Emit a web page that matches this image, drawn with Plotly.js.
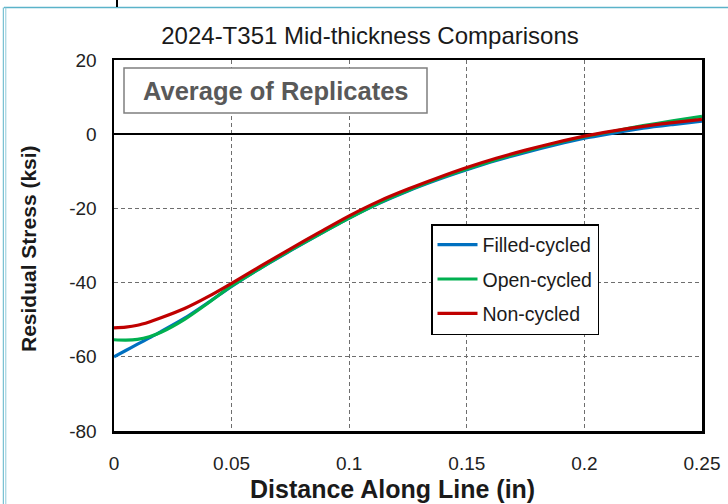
<!DOCTYPE html>
<html>
<head>
<meta charset="utf-8">
<script src="https://cdn.plot.ly/plotly-3.0.1.min.js"></script>
<style>
html,body{margin:0;padding:0;background:#fff;}
#chart{width:728px;height:504px;}
</style>
</head>
<body>
<div id="chart"></div>
<script>
// ---- data ----
const distance = [0, 0.005, 0.01, 0.015, 0.02, 0.03, 0.04, 0.05, 0.0625, 0.075, 0.0875, 0.1,
  0.1125, 0.125, 0.1375, 0.15, 0.1625, 0.175, 0.1875, 0.2, 0.2125, 0.225, 0.2375, 0.25];
const filledCycled = [-60.0, -58.3, -56.6, -54.9, -53.2, -49.6, -45.4, -41.0, -36.0, -31.4, -26.9, -22.6,
  -18.7, -15.3, -12.3, -9.6, -7.1, -4.9, -2.9, -1.1, 0.3, 1.6, 2.6, 3.5];
const openCycled = [-55.4, -55.5, -55.3, -54.6, -53.4, -49.9, -45.5, -40.9, -36.0, -31.3, -26.9, -22.6,
  -18.6, -15.2, -12.1, -9.4, -6.9, -4.6, -2.5, -0.7, 0.8, 2.3, 3.6, 4.8];
const nonCycled = [-52.2, -52.0, -51.5, -50.6, -49.5, -47.0, -43.8, -40.2, -35.5, -30.9, -26.4, -22.0,
  -18.1, -14.8, -11.8, -9.0, -6.5, -4.3, -2.3, -0.5, 0.9, 2.1, 3.1, 4.0];
const seriesNames = ["Filled-cycled", "Open-cycled", "Non-cycled"];
const xTickVals = [0, 0.05, 0.1, 0.15, 0.2, 0.25];
const xTickText = ["0", "0.05", "0.1", "0.15", "0.2", "0.25"];
const yTickVals = [-80, -60, -40, -20, 0, 20];
const yTickText = ["-80", "-60", "-40", "-20", "0", "20"];

const colors = ["#0070C0", "#00B050", "#C00000"];
const series = [filledCycled, openCycled, nonCycled];

const traces = series.map((s, i) => ({
  type: "scatter", mode: "lines",
  x: distance, y: s, name: seriesNames[i], legendgroup: "g" + i,
  line: {color: colors[i], width: 3.2, shape: "spline", smoothing: 0.8}
}));

// helpers to convert pixel positions of decorations to paper coords
const L = 114, R = 702, T = 60, B = 431;
const px = v => (v - L) / (R - L);
const py = v => (B - v) / (B - T);
const FONT = "Liberation Sans, Arial, sans-serif";

const layout = {
  width: 728, height: 504,
  margin: {l: L, r: 728 - R, t: T, b: 504 - B},
  paper_bgcolor: "#ffffff", plot_bgcolor: "#ffffff",
  font: {family: FONT, color: "#222222"},
  title: {
    text: "2024-T351 Mid-thickness Comparisons",
    font: {size: 24, color: "#1a1a1a", family: FONT},
    x: 370 / 728, xref: "container", xanchor: "center",
    y: 1 - 36 / 504, yref: "container", yanchor: "middle"
  },
  showlegend: true,
  legend: {
    x: px(431), y: py(224), xanchor: "left", yanchor: "top",
    bgcolor: "#ffffff", bordercolor: "#000000", borderwidth: 1.5,
    font: {size: 19.5, color: "#1a1a1a"},
    tracegroupgap: 6, itemwidth: 40
  },
  xaxis: {
    range: [0, 0.25], tickvals: xTickVals, ticktext: xTickText,
    showgrid: true, gridcolor: "#6e6e6e", griddash: "4px,3px", gridwidth: 1,
    zeroline: false, showline: true, linecolor: "#000000", linewidth: 2.5, mirror: true,
    ticks: "", ticklabelstandoff: 14,
    tickfont: {size: 19, color: "#222222"}
  },
  yaxis: {
    range: [-80, 20], tickvals: yTickVals, ticktext: yTickText,
    showgrid: true, gridcolor: "#6e6e6e", griddash: "4px,3px", gridwidth: 1,
    zeroline: true, zerolinecolor: "#000000", zerolinewidth: 1.8,
    showline: true, linecolor: "#000000", linewidth: 2.5, mirror: true,
    ticks: "", ticklabelstandoff: 11,
    tickfont: {size: 19, color: "#222222"}
  },
  annotations: [
    {
      text: "<b>Average of Replicates</b>",
      xref: "paper", yref: "paper", x: px(275.5), y: py(90.5), xanchor: "center", yanchor: "middle",
      showarrow: false, font: {size: 25.5, color: "#595959"}
    },
    {
      text: "<b>Distance Along Line (in)</b>",
      xref: "paper", yref: "paper", x: px(392), y: py(489), xanchor: "center", yanchor: "middle",
      showarrow: false, font: {size: 25, color: "#1a1a1a"}
    },
    {
      text: "<b>Residual Stress (ksi)</b>", textangle: -90,
      xref: "paper", yref: "paper", x: px(28), y: py(249), xanchor: "center", yanchor: "middle",
      showarrow: false, font: {size: 21, color: "#1a1a1a"}
    }
  ],
  shapes: [
    // "Average of Replicates" box
    {type: "rect", xref: "paper", yref: "paper", x0: px(124), x1: px(427), y0: py(68), y1: py(113),
      fillcolor: "#ffffff", line: {color: "#7f7f7f", width: 1.5}, layer: "above"},
    // surrounding screenshot frame (light blue)
    {type: "line", xref: "paper", yref: "paper", x0: px(4), x1: px(728), y0: py(7.5), y1: py(7.5), line: {color: "#5bb3c9", width: 1.5}},
    {type: "line", xref: "paper", yref: "paper", x0: px(3.3), x1: px(3.3), y0: py(7.5), y1: py(504), line: {color: "#5bb3c9", width: 1}},
    {type: "line", xref: "paper", yref: "paper", x0: px(5.8), x1: px(5.8), y0: py(7.5), y1: py(504), line: {color: "#8fcadb", width: 1}},
    {type: "line", xref: "paper", yref: "paper", x0: px(117), x1: px(117), y0: py(0), y1: py(7), line: {color: "#000000", width: 2}}
  ]
};

Plotly.newPlot("chart", traces, layout, {displayModeBar: false, staticPlot: true});
</script>
</body>
</html>
